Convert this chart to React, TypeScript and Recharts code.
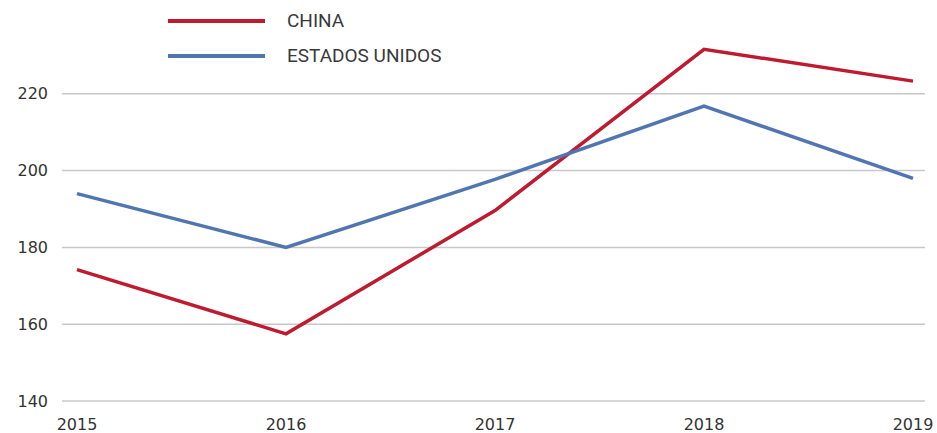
import React from "react";
import { LineChart, Line, XAxis, YAxis, CartesianGrid } from "recharts";

const years = ["2015", "2016", "2017", "2018", "2019"];
const china = [174.2, 157.5, 189.6, 231.6, 223.3];
const usa = [194, 180, 197.7, 216.8, 198];
const yTicks = [140, 160, 180, 200, 220];

const RED = "#be1a30";
const BLUE = "#5076b2";
const TICK_FONT = "'DejaVu Sans', sans-serif";
const LEGEND_FONT = "Roboto, 'Noto Sans', sans-serif";

const data = years.map((y, i) => ({ year: y, china: china[i], usa: usa[i] }));

const legendItems = [
  { label: "CHINA", color: RED },
  { label: "ESTADOS UNIDOS", color: BLUE },
];

const LegendContent = () => (
  <div style={{ fontFamily: LEGEND_FONT, position: "absolute", top: 3, left: 168 }}>
    {legendItems.map((it) => (
      <div key={it.label} style={{ display: "flex", alignItems: "center", height: 35 }}>
        <div style={{ width: 97, height: 4, background: it.color, marginRight: 22 }} />
        <span style={{ fontSize: 19, color: "#3a3a3a" }}>{it.label}</span>
      </div>
    ))}
  </div>
);

export default function App() {
  return (
    <div style={{ position: "absolute", left: 0, top: 0, width: 937, height: 433, background: "#fff" }}>
      <LineChart width={937} height={433} data={data} margin={{ top: 17, right: 12, bottom: 0, left: 0 }}>
        <CartesianGrid
          horizontal
          vertical={false}
          horizontalValues={yTicks}
          stroke="#c8c8c8"
          strokeWidth={1.5}
        />
        <XAxis
          dataKey="year"
          height={32}
          axisLine={false}
          tickLine={false}
          padding={{ left: 15, right: 12 }}
          tickMargin={12}
          tick={{ fill: "#333", fontSize: 16, fontFamily: TICK_FONT }}
        />
        <YAxis
          width={62}
          domain={[140, 240]}
          ticks={yTicks}
          axisLine={false}
          tickLine={false}
          tickMargin={8}
          tick={{ fill: "#333", fontSize: 16, fontFamily: TICK_FONT }}
        />
        <Line dataKey="china" stroke={RED} strokeWidth={3.5} dot={false} isAnimationActive={false} />
        <Line dataKey="usa" stroke={BLUE} strokeWidth={3.5} dot={false} isAnimationActive={false} />
      </LineChart>
      <LegendContent />
    </div>
  );
}
